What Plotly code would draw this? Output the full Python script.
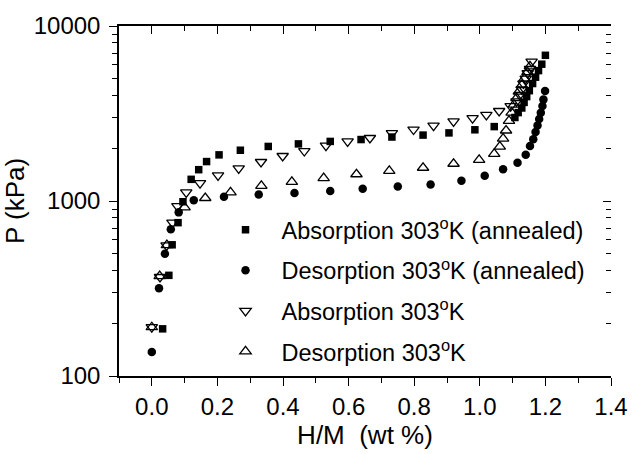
import plotly.graph_objects as go

# Absorption 303K (annealed) - filled squares
abs_ann_x = [0.033, 0.052, 0.062, 0.080, 0.095, 0.12, 0.143, 0.167, 0.205, 0.27, 0.355, 0.447, 0.544, 0.638,
             0.732, 0.827, 0.906, 0.985, 1.044, 1.107, 1.117, 1.128, 1.135, 1.143, 1.151, 1.161, 1.170,
             1.179, 1.189, 1.2]
abs_ann_p = [186, 376, 562, 752, 990, 1330, 1510, 1680, 1835, 1950, 2050, 2120, 2190, 2245,
             2320, 2380, 2450, 2552, 2661, 3000, 3200, 3400, 3660, 3950, 4270, 4690, 5100,
             5560, 6050, 6800]

# Desorption 303K (annealed) - filled circles
des_ann_x = [0.0, 0.022, 0.04, 0.058, 0.082, 0.128, 0.22, 0.326, 0.435, 0.544, 0.643, 0.75, 0.85, 0.944,
             1.015, 1.071, 1.115, 1.140, 1.153, 1.163, 1.170, 1.176, 1.181, 1.186, 1.191, 1.194, 1.199]
des_ann_p = [137, 317, 500, 690, 861, 1010, 1057, 1090, 1112, 1140, 1175, 1211, 1243, 1307,
             1393, 1517, 1652, 1836, 2061, 2254, 2478, 2697, 2938, 3198, 3485, 3796, 4250]

# Absorption 303K - open down triangles
abs_x = [0.0, 0.025, 0.045, 0.063, 0.078, 0.105, 0.147, 0.202, 0.265, 0.333, 0.399, 0.465, 0.531, 0.597,
         0.665, 0.732, 0.798, 0.859, 0.92, 0.978, 1.02, 1.059, 1.094, 1.112, 1.122, 1.128, 1.133,
         1.140, 1.146, 1.153, 1.158]
abs_p = [190, 368, 558, 752, 935, 1120, 1265, 1400, 1535, 1670, 1808, 1930, 2070, 2190,
         2291, 2442, 2561, 2697, 2851, 2974, 3104, 3269, 3486, 3707, 4037, 4345, 4690,
         5003, 5375, 5678, 6250]

# Desorption 303K - open up triangles
des_x = [0.0, 0.024, 0.046, 0.10, 0.163, 0.24, 0.334, 0.427, 0.524, 0.624, 0.724, 0.827, 0.92, 0.998,
         1.044, 1.061, 1.071, 1.080, 1.089, 1.097, 1.104, 1.112, 1.119, 1.128, 1.136, 1.145, 1.153]
des_p = [190, 372, 560, 920, 1040, 1120, 1220, 1285, 1350, 1422, 1486, 1549, 1632, 1720,
         1860, 2045, 2274, 2529, 2872, 3198, 3556, 3873, 4217, 4592, 5001, 5448, 5875]

names = ["Absorption 303<sup>o</sup>K (annealed)", "Desorption 303<sup>o</sup>K (annealed)",
         "Absorption 303<sup>o</sup>K", "Desorption 303<sup>o</sup>K"]

FONT = "Liberation Sans, Arial, sans-serif"
fig = go.Figure()
series = [
    (abs_ann_x, abs_ann_p, dict(symbol="square", size=7.5, color="black")),
    (des_ann_x, des_ann_p, dict(symbol="circle", size=8.5, color="black")),
    (abs_x, abs_p, dict(symbol="triangle-down-open", size=10, color="black", line=dict(width=1.3, color="black"))),
    (des_x, des_p, dict(symbol="triangle-up-open", size=10, color="black", line=dict(width=1.3, color="black"))),
]
for i, ((x, y, m), n) in enumerate(zip(series, names)):
    fig.add_trace(go.Scatter(x=x, y=y, mode="markers", marker=m, name=n, legendgroup=str(i)))

# invisible helper trace for the mirrored top / right axes
fig.add_trace(go.Scatter(x=[0.0], y=[1000], xaxis="x2", yaxis="y2", mode="markers",
                         marker=dict(opacity=0), showlegend=False, hoverinfo="skip"))

XR = [-0.1, 1.4]
fig.update_layout(
    width=644, height=454,
    margin=dict(l=119, r=33, t=21, b=72),
    paper_bgcolor="white", plot_bgcolor="white",
    font=dict(family=FONT, size=24, color="black"),
    showlegend=True,
    legend=dict(x=0.184, y=0.48, xanchor="left", yanchor="top", bgcolor="rgba(0,0,0,0)",
                font=dict(size=23.5, family=FONT), tracegroupgap=7, itemwidth=62),
    xaxis=dict(range=XR, tick0=0, dtick=0.2, tickformat=".1f",
               showline=True, linecolor="black", linewidth=1.5,
               ticks="outside", ticklen=8, tickwidth=1.3, tickcolor="black",
               minor=dict(dtick=0.1, tick0=0, ticks="outside", ticklen=5, tickwidth=1.3, tickcolor="black"),
               showgrid=False, zeroline=False,
               title=dict(text="H/M  (wt %)", font=dict(size=26), standoff=4),
               tickfont=dict(size=24)),
    xaxis2=dict(range=XR, overlaying="x", side="top", tick0=0, dtick=0.2,
                showticklabels=False, showline=True, linecolor="black", linewidth=1.5,
                ticks="inside", ticklen=8, tickwidth=1.3, tickcolor="black",
                minor=dict(dtick=0.1, tick0=0, ticks="inside", ticklen=5, tickwidth=1.3, tickcolor="black"),
                showgrid=False, zeroline=False),
    yaxis=dict(type="log", range=[2, 4], dtick=1, showline=True, linecolor="black", linewidth=1.5,
               ticks="outside", ticklen=8, tickwidth=1.3, tickcolor="black",
               minor=dict(dtick="D1", ticks="outside", ticklen=5, tickwidth=1.3, tickcolor="black"),
               showgrid=False, zeroline=False, tickformat="d", ticklabelstandoff=4,
               title=dict(text="P (kPa)", font=dict(size=26), standoff=2),
               tickfont=dict(size=24)),
    yaxis2=dict(type="log", range=[2, 4], dtick=1, overlaying="y", side="right",
                showticklabels=False, showline=False,
                ticks="inside", ticklen=8, tickwidth=1.3, tickcolor="black",
                minor=dict(dtick="D1", ticks="inside", ticklen=5, tickwidth=1.3, tickcolor="black"),
                showgrid=False, zeroline=False),
)

fig.write_html("out.html")
